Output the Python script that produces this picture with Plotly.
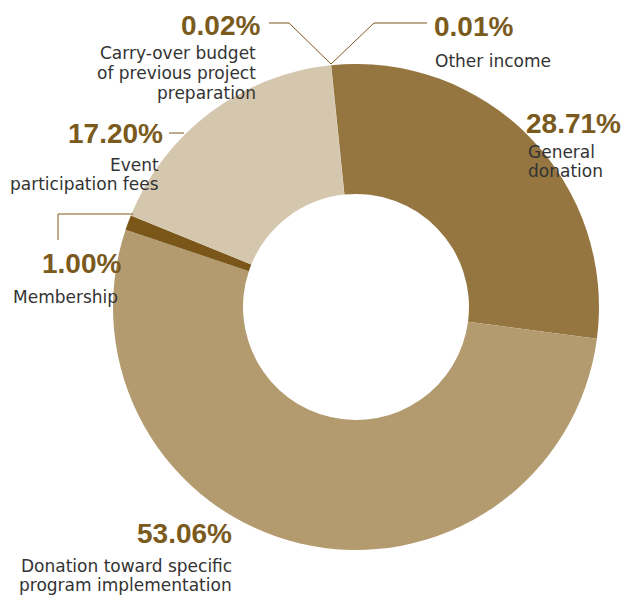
import plotly.graph_objects as go

# ---- data ----
labels = [
    "Other income",
    "General donation",
    "Donation toward specific program implementation",
    "Membership",
    "Event participation fees",
    "Carry-over budget of previous project preparation",
]
values = [0.01, 28.71, 53.06, 1.00, 17.20, 0.02]
pct_text = ["0.01%", "28.71%", "53.06%", "1.00%", "17.20%", "0.02%"]
colors = ["#957640", "#957640", "#b39b6f", "#7a5718", "#d5c6ae", "#d5c6ae"]

W, H = 632, 598
PCT_COLOR = "#7b5a1d"
TXT_COLOR = "#333333"
PCT_FONT = "Liberation Sans, Arial, sans-serif"
TXT_FONT = "DejaVu Sans, sans-serif"


def px(x):
    return x / W


def py(y):
    return 1 - y / H


fig = go.Figure()
cx, cy, r = 356, 307, 243
fig.add_trace(go.Pie(
    labels=labels,
    values=values,
    hole=0.465,
    sort=False,
    direction="clockwise",
    rotation=-5.9,
    marker=dict(colors=colors, line=dict(width=0)),
    textinfo="none",
    hoverinfo="label+percent",
    showlegend=False,
    domain=dict(x=[px(cx - r), px(cx + r)], y=[py(cy + r), py(cy - r)]),
))

annotations = []


def add_text(text, x, baseline, anchor, size, color, family, weight="normal"):
    annotations.append(dict(
        text=text, x=px(x), y=py(baseline - 0.35 * size),
        xref="paper", yref="paper", xanchor=anchor, yanchor="middle",
        showarrow=False,
        font=dict(size=size, color=color, family=family, weight=weight),
    ))


# percentages
pct_pos = {
    "0.01%": (432, 36, "left"),
    "28.71%": (524, 133, "left"),
    "53.06%": (234, 543, "right"),
    "1.00%": (123, 273, "right"),
    "17.20%": (165, 143, "right"),
    "0.02%": (262, 35, "right"),
}
for t in pct_text:
    x, b, a = pct_pos[t]
    add_text(t, x, b, a, 28, PCT_COLOR, PCT_FONT, "bold")

# description lines
desc_lines = [
    ("Carry-over budget", 258, 59, "right"),
    ("of previous project", 258, 79, "right"),
    ("preparation", 258, 99, "right"),
    ("Other income", 433, 67, "left"),
    ("General", 526, 158, "left"),
    ("donation", 526, 177, "left"),
    ("Event", 161, 171, "right"),
    ("participation fees", 161, 190, "right"),
    ("Membership", 120, 303, "right"),
    ("Donation toward specific", 234, 572, "right"),
    ("program implementation", 234, 591, "right"),
]
for t, x, b, a in desc_lines:
    add_text(t, x, b, a, 17, TXT_COLOR, TXT_FONT)

# leader lines
leaders = [
    [(269, 23), (289, 23), (331, 64)],
    [(331, 64), (374, 23), (427, 23)],
    [(169, 133), (184, 133)],
    [(58, 240), (58, 214), (133, 214)],
]
shapes = []
for pts in leaders:
    path = "M " + " L ".join(f"{px(x)},{py(y)}" for x, y in pts)
    shapes.append(dict(type="path", path=path, xref="paper", yref="paper",
                       line=dict(color=PCT_COLOR, width=1)))

fig.update_layout(
    width=W, height=H,
    margin=dict(l=0, r=0, t=0, b=0),
    paper_bgcolor="white",
    plot_bgcolor="white",
    annotations=annotations,
    shapes=shapes,
)

fig.write_html(
    "out.html",
    config={"displayModeBar": False},
    post_script="document.body.style.margin='0';document.body.style.overflow='hidden';",
)
